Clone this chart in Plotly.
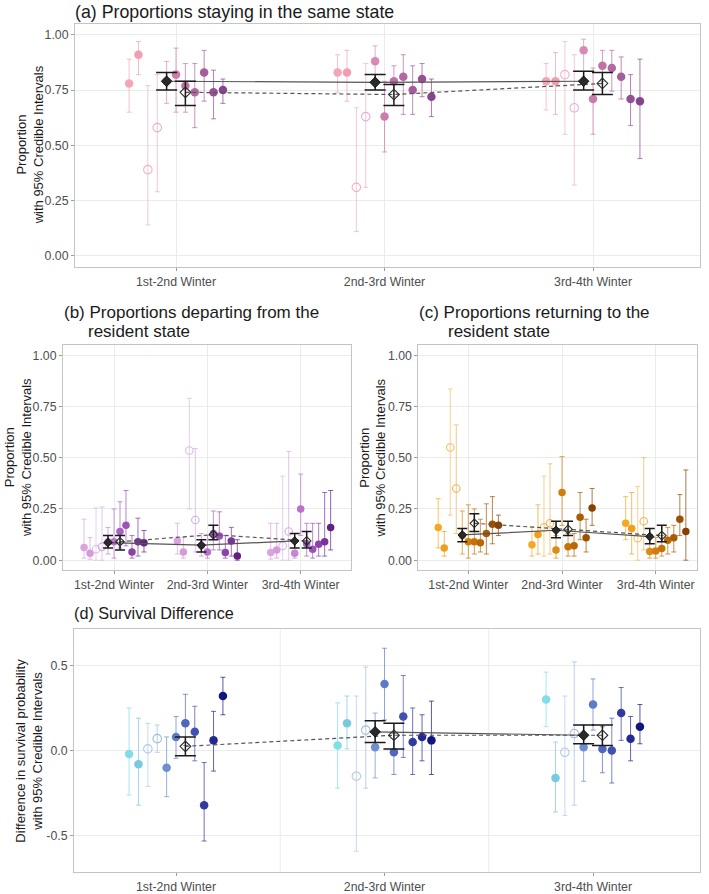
import plotly.graph_objects as go

W, H = 709, 894
FONT = "Liberation Sans, Arial, Helvetica, sans-serif"

winters = ["1st-2nd Winter", "2nd-3rd Winter", "3rd-4th Winter"]

# ---------------- Panel (a): staying in the same state (3 winters x 11 sites)
a_est = [[0.78, 0.91, 0.39, 0.58, 0.79, 0.82, 0.77, 0.74, 0.83, 0.74, 0.75],
         [0.83, 0.83, 0.31, 0.63, 0.88, 0.63, 0.79, 0.81, 0.75, 0.80, 0.72],
         [0.79, 0.79, 0.82, 0.67, 0.93, 0.71, 0.86, 0.85, 0.81, 0.71, 0.70]]
a_lo = [[0.65, 0.82, 0.14, 0.29, 0.69, 0.65, 0.65, 0.58, 0.70, 0.62, 0.69],
        [0.74, 0.70, 0.11, 0.31, 0.80, 0.47, 0.72, 0.64, 0.64, 0.72, 0.63],
        [0.66, 0.64, 0.55, 0.32, 0.80, 0.55, 0.79, 0.745, 0.71, 0.59, 0.44]]
a_hi = [[0.89, 0.97, 0.77, 0.82, 0.88, 0.94, 0.87, 0.87, 0.93, 0.84, 0.80],
        [0.91, 0.93, 0.67, 0.87, 0.95, 0.79, 0.86, 0.91, 0.86, 0.87, 0.80],
        [0.87, 0.92, 0.97, 0.91, 0.98, 0.85, 0.93, 0.93, 0.90, 0.82, 0.89]]
a_mean = [0.79, 0.785, 0.79]
a_mean_lo = [0.75, 0.75, 0.75]
a_mean_hi = [0.83, 0.82, 0.835]
a_mean2 = [0.74, 0.73, 0.78]
a_mean2_lo = [0.68, 0.68, 0.73]
a_mean2_hi = [0.79, 0.775, 0.83]

# ---------------- Panel (b): departing from the resident state
b_est = [[0.062, 0.034, 0.053, 0.065, 0.09, 0.09, 0.14, 0.17, 0.04, 0.09, 0.085],
         [0.094, 0.04, 0.535, 0.196, 0.07, 0.04, 0.13, 0.118, 0.037, 0.094, 0.02],
         [0.037, 0.05, 0.07, 0.14, 0.034, 0.25, 0.08, 0.053, 0.078, 0.09, 0.16]]
b_lo = [[0.01, 0.005, 0.0, 0.0, 0.03, 0.01, 0.06, 0.07, 0.01, 0.02, 0.04],
        [0.03, 0.01, 0.25, 0.04, 0.02, 0.01, 0.05, 0.05, 0.01, 0.02, 0.0],
        [0.005, 0.01, 0.0, 0.0, 0.01, 0.12, 0.02, 0.01, 0.02, 0.02, 0.05]]
b_hi = [[0.20, 0.11, 0.255, 0.26, 0.16, 0.25, 0.285, 0.34, 0.12, 0.205, 0.145],
        [0.18, 0.11, 0.79, 0.545, 0.13, 0.12, 0.24, 0.236, 0.12, 0.16, 0.10],
        [0.18, 0.18, 0.41, 0.53, 0.10, 0.42, 0.18, 0.18, 0.18, 0.33, 0.34]]
b_mean = [0.086, 0.073, 0.094]
b_mean_lo = [0.06, 0.04, 0.06]
b_mean_hi = [0.12, 0.10, 0.13]
b_mean2 = [0.09, 0.125, 0.094]
b_mean2_lo = [0.05, 0.10, 0.06]
b_mean2_hi = [0.12, 0.17, 0.14]

# ---------------- Panel (c): returning to the resident state
c_est = [[0.16, 0.06, 0.55, 0.35, 0.12, 0.09, 0.09, 0.085, 0.13, 0.175, 0.17],
         [0.075, 0.125, 0.16, 0.18, 0.05, 0.33, 0.065, 0.07, 0.21, 0.11, 0.255],
         [0.18, 0.155, 0.107, 0.19, 0.042, 0.045, 0.057, 0.097, 0.11, 0.20, 0.14]]
c_lo = [[0.06, 0.02, 0.22, 0.13, 0.03, 0.01, 0.03, 0.04, 0.03, 0.08, 0.12],
        [0.02, 0.03, 0.02, 0.03, 0.01, 0.17, 0.02, 0.02, 0.10, 0.04, 0.17],
        [0.10, 0.03, 0.0, 0.05, 0.01, 0.01, 0.02, 0.03, 0.04, 0.12, 0.0]]
c_hi = [[0.30, 0.14, 0.835, 0.66, 0.24, 0.27, 0.25, 0.20, 0.275, 0.31, 0.22],
        [0.16, 0.27, 0.41, 0.47, 0.12, 0.505, 0.13, 0.13, 0.33, 0.20, 0.35],
        [0.31, 0.33, 0.36, 0.50, 0.12, 0.11, 0.12, 0.16, 0.17, 0.32, 0.44]]
c_mean = [0.123, 0.146, 0.115]
c_mean_lo = [0.09, 0.11, 0.08]
c_mean_hi = [0.155, 0.19, 0.155]
c_mean2 = [0.18, 0.15, 0.12]
c_mean2_lo = [0.14, 0.12, 0.09]
c_mean2_hi = [0.227, 0.19, 0.17]

# ---------------- Panel (d): survival difference
d_est = [[-0.02, -0.08, 0.01, 0.07, -0.10, 0.08, 0.16, 0.11, -0.32, 0.06, 0.32],
         [0.03, 0.16, -0.15, 0.12, 0.02, 0.39, -0.01, 0.20, 0.05, 0.08, 0.06],
         [0.30, -0.16, -0.01, 0.10, 0.02, 0.27, 0.01, 0.00, 0.22, 0.07, 0.14]]
d_lo = [[-0.26, -0.32, -0.21, -0.01, -0.27, -0.045, 0.03, -0.06, -0.53, -0.12, 0.21],
        [-0.22, 0.01, -0.59, -0.22, -0.16, 0.18, -0.14, -0.04, -0.14, -0.06, -0.14],
        [0.14, -0.36, -0.38, -0.32, -0.18, 0.12, -0.13, -0.19, 0.06, -0.06, 0.04]]
d_hi = [[0.25, 0.19, 0.16, 0.15, 0.08, 0.20, 0.33, 0.26, -0.07, 0.23, 0.43],
        [0.28, 0.32, 0.32, 0.49, 0.22, 0.60, 0.10, 0.44, 0.25, 0.21, 0.29],
        [0.46, 0.05, 0.32, 0.52, 0.15, 0.42, 0.14, 0.19, 0.37, 0.20, 0.27]]
d_mean = [None, 0.11, 0.09]
d_mean_lo = [None, 0.047, 0.04]
d_mean_hi = [None, 0.175, 0.15]
d_mean2 = [0.025, 0.09, 0.09]
d_mean2_lo = [-0.03, 0.01, 0.03]
d_mean2_hi = [0.08, 0.16, 0.15]

open_sites = [2, 3]

a_cols = ["#F4A6B7", "#F29EB2", "#EDB3C8", "#E6B0CC", "#D88AB2", "#CB7DAA",
          "#BF72A6", "#B268A1", "#A45C9B", "#955094", "#86448E"]
b_cols = ["#DCA3E0", "#D59ADB", "#DDB8E6", "#D3AEE0", "#C585D5", "#B872CB",
          "#AA62C0", "#9C53B5", "#8C43A9", "#7A339B", "#63207F"]
c_cols = ["#F7A823", "#F09F1C", "#F1BD62", "#EBB35A", "#DB8B12", "#D07F0C",
          "#C57308", "#B96805", "#AB5C03", "#9B5002", "#874200"]
d_cols = ["#82DDE8", "#76CBE0", "#AFCBE2", "#A2BCDC", "#6E8FD0", "#5E7AC8",
          "#5066BD", "#4151B0", "#3239A0", "#242892", "#101580"]


def rgba(h, a):
    h = h.lstrip("#")
    return "rgba(%d,%d,%d,%.2f)" % (int(h[0:2], 16), int(h[2:4], 16), int(h[4:6], 16), a)


def px(xp):
    return xp / W


def py(yp):
    return 1 - yp / H


fig = go.Figure()

panels = [
    dict(ax="", est=a_est, lo=a_lo, hi=a_hi, m=a_mean, mlo=a_mean_lo, mhi=a_mean_hi,
         m2=a_mean2, m2lo=a_mean2_lo, m2hi=a_mean2_hi, cols=a_cols, step=0.045, capw=10.5,
         ms=8.5, ds=8.2),
    dict(ax="2", est=b_est, lo=b_lo, hi=b_hi, m=b_mean, mlo=b_mean_lo, mhi=b_mean_hi,
         m2=b_mean2, m2lo=b_mean2_lo, m2hi=b_mean2_hi, cols=b_cols, step=0.0642, capw=5,
         ms=7.5, ds=6.6),
    dict(ax="3", est=c_est, lo=c_lo, hi=c_hi, m=c_mean, mlo=c_mean_lo, mhi=c_mean_hi,
         m2=c_mean2, m2lo=c_mean2_lo, m2hi=c_mean2_hi, cols=c_cols, step=0.0642, capw=5,
         ms=7.5, ds=6.6),
    dict(ax="4", est=d_est, lo=d_lo, hi=d_hi, m=d_mean, mlo=d_mean_lo, mhi=d_mean_hi,
         m2=d_mean2, m2lo=d_mean2_lo, m2hi=d_mean2_hi, cols=d_cols, step=0.045, capw=10.5,
         ms=8.5, ds=8.2),
]

for p in panels:
    xa, ya = "x" + p["ax"], "y" + p["ax"]
    st = p["step"]
    for s in range(11):
        xs = [g + 1 + (s - 5) * st for g in range(3)]
        ys = [p["est"][g][s] for g in range(3)]
        up = [p["hi"][g][s] - p["est"][g][s] for g in range(3)]
        dn = [p["est"][g][s] - p["lo"][g][s] for g in range(3)]
        col = p["cols"][s]
        is_open = s in open_sites
        fig.add_trace(go.Scatter(
            x=xs, y=ys, xaxis=xa, yaxis=ya, mode="markers",
            marker=dict(symbol="circle-open" if is_open else "circle", size=p["ms"], color=col,
                        line=dict(width=1.1, color=col) if is_open else dict(width=0)),
            error_y=dict(type="data", symmetric=False, array=up, arrayminus=dn,
                         color=rgba(col, 0.7), thickness=1.0, width=2.5),
            showlegend=False, hoverinfo="skip"))
    xm = [g + 1 - st for g in range(3)]
    xm2 = [g + 1 + st for g in range(3)]
    fig.add_trace(go.Scatter(x=xm, y=p["m"], xaxis=xa, yaxis=ya, mode="lines",
                             line=dict(color="#555555", width=1.2),
                             showlegend=False, hoverinfo="skip"))
    fig.add_trace(go.Scatter(x=xm2, y=p["m2"], xaxis=xa, yaxis=ya, mode="lines",
                             line=dict(color="#555555", width=1.2, dash="4px,3px"),
                             showlegend=False, hoverinfo="skip"))
    up = [None if v is None else h - v for v, h in zip(p["m"], p["mhi"])]
    dn = [None if v is None else v - l for v, l in zip(p["m"], p["mlo"])]
    fig.add_trace(go.Scatter(
        x=xm, y=p["m"], xaxis=xa, yaxis=ya, mode="markers",
        marker=dict(symbol="diamond", size=p["ds"], color="#2a2a2a", line=dict(width=0.8, color="#000000")),
        error_y=dict(type="data", symmetric=False, array=up, arrayminus=dn,
                     color="#1a1a1a", thickness=1.5, width=p["capw"]),
        showlegend=False, hoverinfo="skip"))
    up2 = [h - v for v, h in zip(p["m2"], p["m2hi"])]
    dn2 = [v - l for v, l in zip(p["m2"], p["m2lo"])]
    fig.add_trace(go.Scatter(
        x=xm2, y=p["m2"], xaxis=xa, yaxis=ya, mode="markers",
        marker=dict(symbol="diamond-open", size=p["ds"], color="#2a2a2a", line=dict(width=1.1)),
        error_y=dict(type="data", symmetric=False, array=up2, arrayminus=dn2,
                     color="#1a1a1a", thickness=1.5, width=p["capw"]),
        showlegend=False, hoverinfo="skip"))

GRID = "#ebebeb"
BORDER = "#c4c4c4"
TICKF = dict(size=12.3, color="#4d4d4d", family=FONT)


def xaxis(dom, rng, grid=True):
    return dict(domain=dom, range=rng, tickmode="array", tickvals=[1, 2, 3], ticktext=winters,
                showgrid=grid, gridcolor=GRID, gridwidth=1, zeroline=False,
                showline=True, mirror=True, linecolor=BORDER, linewidth=1,
                ticks="outside", ticklen=3, tickcolor="#9a9a9a", tickfont=TICKF)


def yaxis(dom, rng, vals, texts):
    return dict(domain=dom, range=rng, tickmode="array", tickvals=vals, ticktext=texts,
                showgrid=True, gridcolor=GRID, gridwidth=1, zeroline=False,
                showline=True, mirror=True, linecolor=BORDER, linewidth=1,
                ticks="outside", ticklen=3, tickcolor="#9a9a9a", tickfont=TICKF)


pv = [0, 0.25, 0.5, 0.75, 1.0]
pt = ["0.00", "0.25", "0.50", "0.75", "1.00"]

fig.update_layout(
    width=W, height=H, margin=dict(l=0, r=0, t=0, b=0),
    paper_bgcolor="white", plot_bgcolor="white",
    font=dict(family=FONT, color="#1a1a1a"),
    showlegend=False,
    xaxis=dict(xaxis([px(75), px(700)], [0.5156, 3.513]), anchor="y"),
    yaxis=dict(yaxis([py(268.1), py(23.9)], [-0.05, 1.05], pv, pt), anchor="x"),
    xaxis2=dict(xaxis([px(63), px(351)], [0.4536, 3.539]), anchor="y2"),
    yaxis2=dict(yaxis([py(573), py(346.5)], [-0.05, 1.05], pv, pt), anchor="x2"),
    xaxis3=dict(xaxis([px(418.3), px(697)], [0.4664, 3.44]), anchor="y3"),
    yaxis3=dict(yaxis([py(573), py(346.5)], [-0.05, 1.05], pv, pt), anchor="x3"),
    xaxis4=dict(xaxis([px(74), px(700)], [0.5108, 3.513], grid=False), anchor="y4"),
    yaxis4=dict(yaxis([py(876), py(632.3)], [-0.712, 0.71], [-0.5, 0, 0.5], ["-0.5", "0.0", "0.5"]),
                anchor="x4"),
)

for xv in [1.5, 2.5]:
    fig.add_shape(type="line", xref="x4", yref="y4 domain", x0=xv, x1=xv, y0=0, y1=1,
                  line=dict(color=GRID, width=1), layer="below")


def ann(text, x, y, size, xanchor="left", angle=0, color="#1a1a1a"):
    fig.add_annotation(text=text, x=px(x), y=py(y), xref="paper", yref="paper",
                       xanchor=xanchor, yanchor="middle", showarrow=False, textangle=angle,
                       font=dict(size=size, family=FONT, color=color), align="center")


ann("(a) Proportions staying in the same state", 73, 12, 17.8)
ann("(b) Proportions departing from the", 62, 314, 17)
ann("resident state", 85.5, 333, 17)
ann("(c) Proportions returning to the", 416.5, 314, 17)
ann("resident state", 445.5, 333, 17)
ann("(d) Survival Difference", 72, 616, 16.2)

AS = 13
ann("Proportion<br>with 95% Credible Intervals", 30, 146, AS, xanchor="center", angle=-90)
ann("Proportion<br>with 95% Credible Intervals", 18, 460, AS, xanchor="center", angle=-90)
ann("Proportion<br>with 95% Credible Intervals", 372.5, 460, AS, xanchor="center", angle=-90)
ann("Difference in survival probability<br>with 95% Credible Intervals", 29, 754, AS,
    xanchor="center", angle=-90)

fig.write_html("out.html")
